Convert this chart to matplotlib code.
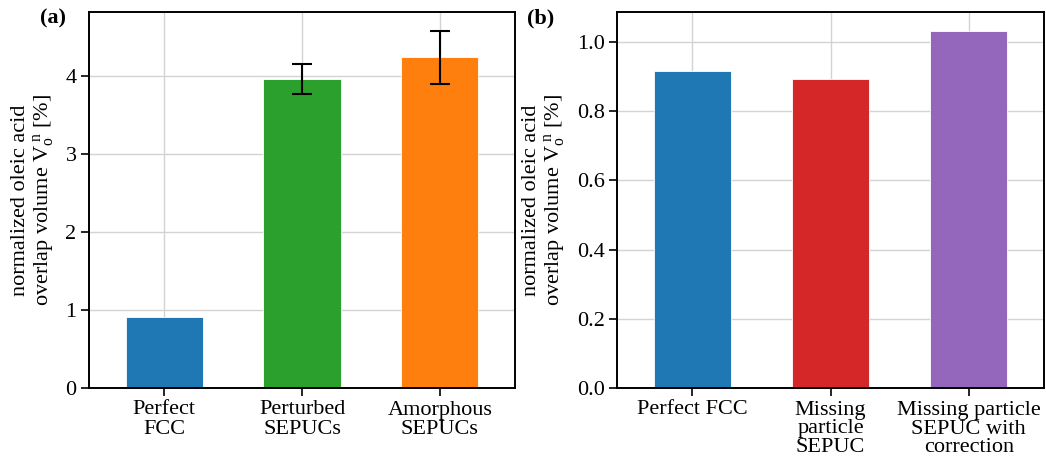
import matplotlib
matplotlib.use("Agg")
import matplotlib.pyplot as plt

plt.rcParams['font.family'] = ['Liberation Serif', 'DejaVu Serif']
plt.rcParams['mathtext.fontset'] = 'custom'
plt.rcParams['mathtext.rm'] = 'Liberation Serif'
plt.rcParams['mathtext.it'] = 'Liberation Serif:italic'

# Panel (a)
cats_a = ["Perfect\nFCC", "Perturbed\nSEPUCs", "Amorphous\nSEPUCs"]
vals_a = [0.91, 3.96, 4.24]
errs_a = [0.0, 0.19, 0.34]
cols_a = ["#1f77b4", "#2ca02c", "#ff7f0e"]
yticks_a = [0, 1, 2, 3, 4]

# Panel (b)
cats_b = ["Perfect FCC", "Missing\nparticle\nSEPUC", "Missing particle\nSEPUC with\ncorrection"]
vals_b = [0.916, 0.893, 1.032]
cols_b = ["#1f77b4", "#d62728", "#9467bd"]
yticks_b = [0.0, 0.2, 0.4, 0.6, 0.8, 1.0]

ylabel = "normalized oleic acid\noverlap volume V$_{\\mathrm{o}}^{\\ \\mathrm{n}}$ [%]"
FS = 16

fig = plt.figure(figsize=(10.46, 4.62), dpi=100)
axa = fig.add_axes([89/1046, 74/462, (515-89)/1046, (388-12)/462])
axb = fig.add_axes([617/1046, 74/462, (1044-617)/1046, (388-12)/462])

def style(ax):
    ax.set_axisbelow(True)
    ax.grid(True, color="#d3d3d3", linewidth=1.0)
    for s in ax.spines.values():
        s.set_linewidth(1.4)
    ax.tick_params(axis='both', direction='out', length=6, width=1.2,
                   labelsize=FS, pad=3)
    ax.set_xlim(-0.545, 2.545)

xa = list(range(len(cats_a)))
axa.bar(xa, vals_a, width=0.56, color=cols_a, edgecolor="white", linewidth=0.6)
ex = [x for x, e in zip(xa, errs_a) if e > 0]
ey = [v for v, e in zip(vals_a, errs_a) if e > 0]
ee = [e for e in errs_a if e > 0]
axa.errorbar(ex, ey, yerr=ee, fmt='none',
             ecolor='black', elinewidth=1.5, capsize=7, capthick=1.5)
style(axa)
axa.set_ylim(0, 4.82)
axa.set_yticks(yticks_a)
axa.set_xticks(xa)
axa.set_xticklabels(cats_a, linespacing=1.0)
axa.set_ylabel(ylabel, fontsize=FS, linespacing=1.05, labelpad=7)

xb = list(range(len(cats_b)))
axb.bar(xb, vals_b, width=0.56, color=cols_b, edgecolor="white", linewidth=0.6)
style(axb)
axb.set_ylim(0, 1.087)
axb.set_yticks(yticks_b)
axb.set_yticklabels([f"{v:.1f}" for v in yticks_b])
axb.set_xticks(xb)
axb.set_xticklabels(cats_b, linespacing=1.0)
axb.set_ylabel(ylabel, fontsize=FS, linespacing=1.05, labelpad=7)

fig.text(40/1046, 1 - 18/462, "(a)", fontsize=FS, fontweight='bold', va='center', ha='left')
fig.text(527/1046, 1 - 18/462, "(b)", fontsize=FS, fontweight='bold', va='center', ha='left')

fig.savefig("out.png", dpi=100)
